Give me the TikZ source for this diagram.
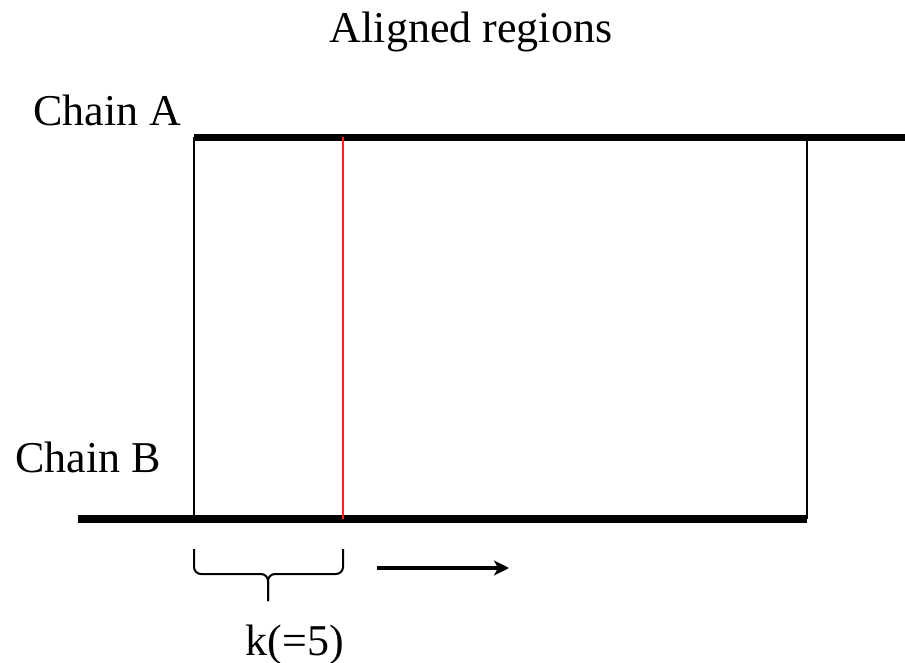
\documentclass[tikz,border=0pt]{standalone}
\usepackage{fontspec}
\setmainfont{Liberation Serif}
\usetikzlibrary{arrows.meta, positioning, calc}

\definecolor{kmerred}{RGB}{255,40,0}

\begin{document}
\begin{tikzpicture}[
    x=1pt, y=-1pt,
    font=\fontsize{44}{50}\selectfont,
    label/.style={inner sep=0pt, anchor=base west},
    chainline/.style={line width=7.5pt, draw=black},
    linkline/.style={line width=2pt, draw=black},
    kmerline/.style={line width=2.5pt, draw=kmerred},
    bracket/.style={line width=2pt, draw=black, rounded corners=7pt},
    arrow/.style={-{Stealth[length=15pt, width=15pt, inset=4pt]}, line width=3.5pt}
]
% fixed frame of the picture
\useasboundingbox (0,0) rectangle (905,663);

% Title and chain labels
\node[label, anchor=base] (title) at (471,43) {Aligned regions};
\node[label] (chainA) at (33,126) {Chain A};
\node[label] (chainB) at (15,472) {Chain B};

% Ends of the two chains and the aligned block
\coordinate (a0) at (194,137.5);
\coordinate (a1) at (905,137.5);
\coordinate (b0) at (78,519);
\coordinate (b1) at (807,519);
\coordinate (k0) at (343,137.5);

% Chains
\draw[chainline] (a0) -- (a1);
\draw[chainline] (b0) -- (b1);

% Borders of the aligned region
\draw[linkline] (a0) -- (a0 |- b0);
\draw[linkline] (a0 -| b1) -- (b1);
\draw[kmerline] (k0) -- (k0 |- b0);

% Brace below the first k positions
\coordinate (brL) at (194,549);
\coordinate (brR) at (343,549);
\coordinate (brM) at (268,574);
\coordinate (brT) at (268,601);
\draw[bracket] (brL) |- (brM) -- (brT);
\draw[bracket] (brR) |- (brM) -- (brT);
\node[label, anchor=base] (klabel) at (295,655) {k(=5)};

% Direction of the sliding window
\coordinate (dir0) at (377,568);
\coordinate (dir1) at (509,568);
\draw[arrow] (dir0) -- (dir1);

\end{tikzpicture}
\end{document}
